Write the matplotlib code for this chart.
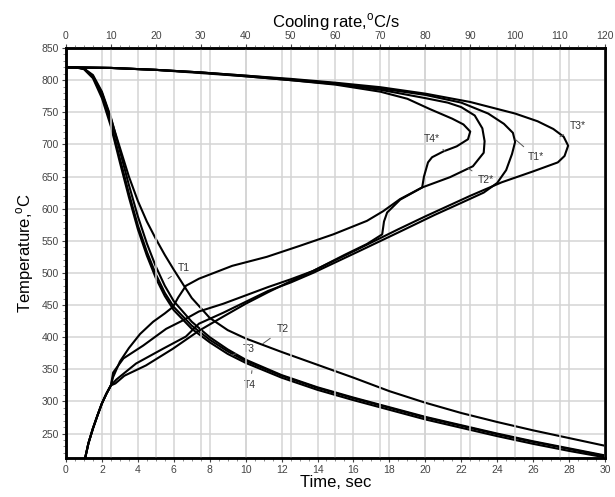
import matplotlib.pyplot as plt
from matplotlib.ticker import MultipleLocator

plt.rcParams['font.family'] = ['Liberation Sans', 'DejaVu Sans']

# cooling curves: temperature vs time
time = [0, 0.5, 1, 1.5, 2, 2.5, 3, 3.5, 4, 4.5, 5, 5.5, 6, 7, 8, 9, 10,
        12, 14, 16, 18, 20, 22, 24, 26, 28, 30]
temp_T1 = [820, 820, 818, 808, 782, 742, 690, 637, 588, 546, 510, 480, 456, 424, 400, 381, 365,
           341, 322, 306, 291, 276, 263, 250, 238, 227, 216]
temp_T2 = [820, 820, 818, 806, 780, 740, 695, 650, 612, 580, 553, 528, 505, 461, 430, 411, 398,
           377, 357, 337, 316, 298, 282, 268, 255, 243, 231]
temp_T3 = [820, 820, 818, 805, 776, 733, 678, 624, 574, 533, 498, 469, 447, 418, 396, 378, 363,
           340, 321, 305, 290, 275, 262, 249, 237, 226, 215]
temp_T4 = [820, 820, 817, 803, 772, 728, 672, 618, 568, 527, 492, 464, 442, 413, 392, 374, 360,
           337, 318, 302, 287, 272, 259, 246, 234, 223, 213]

# cooling rate curves: temperature vs cooling rate
rate_T1s = [0, 10, 20, 30, 40, 50, 60, 70, 80, 88, 94, 97.5, 99.5, 100, 99.3, 98, 96, 93, 88, 82,
            74, 65, 55, 50, 45, 40, 35, 29.6, 26.7, 21.6, 15.6, 11.2, 10, 9, 8, 7, 6, 5, 4.3]
temp_T1s = [820, 819, 816, 812, 807, 801, 795, 787, 777, 765, 748, 732, 718, 704, 685, 660, 640, 625, 609, 590,
            563, 533, 500, 485, 472, 455, 438, 421, 401, 382, 359, 334, 325, 312, 297, 278, 258, 235, 213]
rate_T2s = [0, 10, 20, 30, 40, 50, 60, 70, 80, 85, 88, 91, 92.7, 93.2, 93, 90.6, 85.5, 79.3, 74.4,
            71.5, 70.8, 70.4, 67, 62, 55, 50, 45, 40, 35, 29.6, 23.8, 17.8, 13, 11, 10, 9, 8, 7, 6, 5, 4.3]
temp_T2s = [820, 819, 816, 812, 806, 800, 794, 785, 772, 765, 758, 745, 725, 705, 687, 666, 649, 633, 614,
            594, 580, 560, 545, 528, 503, 487, 470, 452, 432, 410, 382, 356, 340, 328, 325, 312, 297, 278, 258, 235, 213]
rate_T3s = [0, 10, 20, 30, 40, 50, 60, 70, 80, 90, 100, 105, 108.5, 110.8, 111.8, 111, 109.5, 104, 97,
            90, 85, 80, 74, 65, 55, 50, 45, 40, 35, 29.6, 26, 22.3, 17.2, 12.8, 10.5, 10, 9, 8, 7, 6, 5, 4.3]
temp_T3s = [820, 819, 816, 812, 807, 802, 796, 789, 779, 766, 748, 736, 724, 712, 698, 682, 672, 658, 641,
            620, 604, 588, 568, 537, 503, 490, 478, 465, 452, 440, 426, 413, 387, 367, 345, 325, 312, 297, 278, 258, 235, 213]
rate_T4s = [0, 10, 20, 30, 40, 50, 60, 70, 76, 81, 86, 88.5, 90, 89.5, 87, 84, 81.5, 80.6, 79.7, 79.3,
            74.4, 70.6, 67, 59.5, 52, 44.7, 37, 29.6, 26.7, 25, 23.8, 22, 19.4, 16.5, 14, 12, 10.5,
            10, 9, 8, 7, 6, 5, 4.3]
temp_T4s = [820, 819, 816, 811, 806, 800, 793, 782, 771, 755, 740, 731, 720, 708, 697, 689, 680, 672, 650, 633,
            615, 596, 581, 560, 542, 525, 511, 491, 480, 462, 447, 437, 424, 405, 383, 362, 338,
            325, 312, 297, 278, 258, 235, 213]

fig = plt.figure(figsize=(6.15, 4.97), dpi=100)
ax = fig.add_axes([0.1073, 0.0785, 0.8764, 0.8249])
ax2 = ax.twiny()

grid_c = '#d4d4d4'
lw = 1.5
ax.plot(time, temp_T1, color='k', lw=lw)
ax.plot(time, temp_T2, color='k', lw=lw)
ax.plot(time, temp_T3, color='k', lw=lw)
ax.plot(time, temp_T4, color='k', lw=lw)
ax2.plot(rate_T1s, temp_T1s, color='k', lw=lw)
ax2.plot(rate_T2s, temp_T2s, color='k', lw=lw)
ax2.plot(rate_T3s, temp_T3s, color='k', lw=lw)
ax2.plot(rate_T4s, temp_T4s, color='k', lw=lw)

ax.set_xlim(0, 30)
ax2.set_xlim(0, 120)
ax.set_ylim(212, 850)

ax.xaxis.set_major_locator(MultipleLocator(2))
ax.xaxis.set_minor_locator(MultipleLocator(0.5))
ax2.xaxis.set_major_locator(MultipleLocator(10))
ax2.xaxis.set_minor_locator(MultipleLocator(2))
ax.yaxis.set_major_locator(MultipleLocator(50))
ax.yaxis.set_minor_locator(MultipleLocator(10))

ax.grid(True, which='major', color=grid_c, lw=1.1)
ax2.grid(True, which='major', axis='x', color=grid_c, lw=1.1)
ax.set_axisbelow(True)
ax2.set_axisbelow(True)

for a in (ax, ax2):
    a.tick_params(which='major', length=3, width=0.8, labelsize=7.5, colors='#444', pad=2)
    a.tick_params(which='minor', length=2, width=0.6, colors='#777')
for s in ax.spines.values():
    s.set_linewidth(1.8)
for s in ax2.spines.values():
    s.set_linewidth(1.8)

ax.set_xlabel('Time, sec', fontsize=12, labelpad=0)
ax.set_ylabel('Temperature,$^\\mathregular{o}$C', fontsize=12, labelpad=4)
ax2.set_xlabel('Cooling rate,$^\\mathregular{o}$C/s', fontsize=12, labelpad=3)

lab = dict(fontsize=7.5, color='#333', ha='center', va='center',
           arrowprops=dict(arrowstyle='-', color='#555', lw=0.7, shrinkA=3, shrinkB=0))
ax.annotate('T1', xy=(5.68, 491), xytext=(6.55, 508), **lab)
ax.annotate('T2', xy=(10.96, 390), xytext=(12.05, 412), **lab)
ax.annotate('T3', xy=(9.24, 372), xytext=(10.2, 382), **lab)
ax.annotate('T4', xy=(10.35, 348), xytext=(10.25, 325), **lab)
ax2.annotate('T4*', xy=(84.4, 689), xytext=(81.5, 709), **lab)
ax2.annotate('T2*', xy=(89.5, 663), xytext=(93.6, 644), **lab)
ax2.annotate('T1*', xy=(100, 708), xytext=(104.6, 680), **lab)
ax2.annotate('T3*', xy=(110, 712), xytext=(114, 728), **lab)

fig.savefig('out.png', dpi=100)
